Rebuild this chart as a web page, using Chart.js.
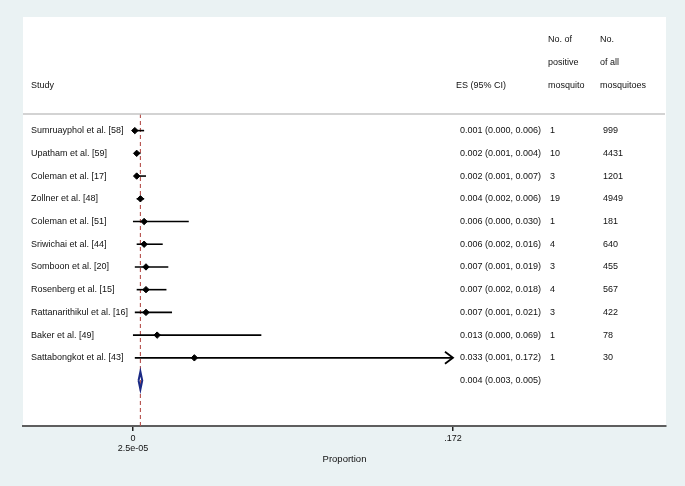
<!DOCTYPE html>
<html>
<head>
<meta charset="utf-8">
<script src="https://cdn.jsdelivr.net/npm/chart.js@4/dist/chart.umd.min.js"></script>
<style>
  html, body { margin: 0; padding: 0; background: #EAF2F3; }
  canvas { display: block; }
</style>
</head>
<body>
<canvas id="c" width="685" height="486"></canvas>
<script>
// ---- data ----
const studies = [
  'Sumruayphol et al. [58]', 'Upatham et al. [59]', 'Coleman et al. [17]',
  'Zollner et al. [48]', 'Coleman et al. [51]', 'Sriwichai et al. [44]',
  'Somboon et al. [20]', 'Rosenberg et al. [15]', 'Rattanarithikul et al. [16]',
  'Baker et al. [49]', 'Sattabongkot et al. [43]'
];
const esVals  = [0.001, 0.002, 0.002, 0.004, 0.006, 0.006, 0.007, 0.007, 0.007, 0.013, 0.033];
const ciLow   = [0.000, 0.001, 0.001, 0.002, 0.000, 0.002, 0.001, 0.002, 0.001, 0.000, 0.001];
const ciHigh  = [0.006, 0.004, 0.007, 0.006, 0.030, 0.016, 0.019, 0.018, 0.021, 0.069, 0.172];
const nPositive = [1, 10, 3, 19, 1, 4, 3, 4, 3, 1, 1];
const nTotal    = [999, 4431, 1201, 4949, 181, 640, 455, 567, 422, 78, 30];
const pooledES  = [0.004];
const pooledLow = [0.003];
const pooledHigh= [0.005];
const xTickValues = [0, 0.172];
const xTickLabels = [['0', '2.5e-05'], ['.172']];
const xTitle = 'Proportion';
const headerStudy = ['Study'];
const headerES = ['ES (95% CI)'];
const headerPos = ['No. of', 'positive', 'mosquito'];
const headerTot = ['No.', 'of all', 'mosquitoes'];

// ---- build ----
const FONT = '"Liberation Sans", Arial, Helvetica, sans-serif';
Chart.defaults.font.family = FONT;
Chart.defaults.font.size = 9;
Chart.defaults.color = '#111';

const fmt = v => v.toFixed(3);
const pooledRow = studies.length;
const diamondHalf = 0.39;
const xMax = xTickValues[xTickValues.length - 1];

const datasets = [];
// reference dashed line at pooled estimate
datasets.push({
  data: [{x: pooledES[0], y: -0.73}, {x: pooledES[0], y: 13}],
  showLine: true, borderColor: '#B5504C', borderWidth: 1.1, borderDash: [4, 3],
  pointRadius: 0, order: 10, clip: false
});
// CI lines
studies.forEach((s, i) => {
  datasets.push({
    data: [{x: ciLow[i], y: i}, {x: ciHigh[i], y: i}],
    showLine: true, borderColor: '#000', borderWidth: 1.6,
    pointRadius: 0, order: 5
  });
});
// point estimates
datasets.push({
  data: esVals.map((v, i) => ({x: v, y: i})),
  showLine: false, pointStyle: 'rectRot', pointRadius: 3.2,
  backgroundColor: '#000', borderColor: '#000', borderWidth: 1, order: 1
});
// pooled diamond
datasets.push({
  data: [
    {x: pooledLow[0], y: pooledRow},
    {x: pooledES[0], y: pooledRow - diamondHalf},
    {x: pooledHigh[0], y: pooledRow},
    {x: pooledES[0], y: pooledRow + diamondHalf},
    {x: pooledLow[0], y: pooledRow}
  ],
  showLine: true, borderColor: '#1B2A85', borderWidth: 2,
  pointRadius: 0, fill: false, order: 1
});

const bgPlugin = {
  id: 'bg',
  beforeDraw(chart) {
    const {ctx, chartArea: a} = chart;
    ctx.save();
    ctx.fillStyle = '#EAF2F3';
    ctx.fillRect(0, 0, chart.width, chart.height);
    ctx.fillStyle = '#FFFFFF';
    ctx.fillRect(a.left, a.top, a.right - a.left, a.bottom - a.top);
    ctx.restore();
  }
};

const textPlugin = {
  id: 'forestText',
  afterDatasetsDraw(chart) {
    const {ctx, chartArea: a, scales: {x, y}} = chart;
    ctx.save();
    ctx.font = '9px ' + FONT;
    ctx.fillStyle = '#111';
    ctx.textBaseline = 'middle';
    ctx.textAlign = 'left';
    const colStudy = a.left + 8, colES = a.left + 437, colPos = a.left + 527, colTot = a.left + 580;
    // headers
    ctx.fillText(headerStudy[0], colStudy, y.getPixelForValue(-2));
    ctx.fillText(headerES[0], colES - 4, y.getPixelForValue(-2));
    headerPos.forEach((t, k) => ctx.fillText(t, colPos - 2, y.getPixelForValue(-4 + k)));
    headerTot.forEach((t, k) => ctx.fillText(t, colTot - 3, y.getPixelForValue(-4 + k)));
    // separator
    ctx.strokeStyle = '#C4C4C4';
    ctx.lineWidth = 1.5;
    ctx.beginPath();
    const sy = y.getPixelForValue(-0.73);
    ctx.moveTo(a.left, sy); ctx.lineTo(a.right - 1, sy); ctx.stroke();
    // rows
    studies.forEach((s, i) => {
      const py = y.getPixelForValue(i);
      ctx.fillText(s, colStudy, py);
      ctx.fillText(fmt(esVals[i]) + ' (' + fmt(ciLow[i]) + ', ' + fmt(ciHigh[i]) + ')', colES, py);
      ctx.fillText(String(nPositive[i]), colPos, py);
      ctx.fillText(String(nTotal[i]), colTot, py);
    });
    ctx.fillText(fmt(pooledES[0]) + ' (' + fmt(pooledLow[0]) + ', ' + fmt(pooledHigh[0]) + ')', colES, y.getPixelForValue(pooledRow));
    // arrowheads for CIs reaching the axis limit
    ctx.strokeStyle = '#000';
    ctx.lineWidth = 1.8;
    ciHigh.forEach((h, i) => {
      if (h >= xMax) {
        const px = x.getPixelForValue(xMax), py = y.getPixelForValue(i);
        ctx.beginPath();
        ctx.moveTo(px - 8, py - 6);
        ctx.lineTo(px, py);
        ctx.lineTo(px - 8, py + 6);
        ctx.stroke();
      }
    });
    ctx.restore();
  }
};

new Chart(document.getElementById('c'), {
  type: 'scatter',
  data: { datasets },
  options: {
    responsive: false,
    animation: false,
    layout: { padding: { left: 23, top: 17, right: 19, bottom: 0 } },
    plugins: { legend: { display: false }, tooltip: { enabled: false } },
    scales: {
      x: {
        type: 'linear',
        min: -0.0591, max: 0.2865,
        afterBuildTicks: s => { s.ticks = xTickValues.map(v => ({value: v})); },
        afterFit: s => { s.height = 60; },
        ticks: {
          autoSkip: false, maxRotation: 0, padding: 3,
          font: { size: 9, lineHeight: 1.1 }, color: '#111',
          callback: (v) => { const k = xTickValues.indexOf(v); return k >= 0 ? xTickLabels[k] : ''; }
        },
        grid: { drawOnChartArea: false, drawTicks: true, tickLength: 5, color: '#222', lineWidth: 1.5 },
        border: { display: true, color: '#5E5E5E', width: 2 },
        title: { display: true, text: xTitle, font: { size: 9.5 }, color: '#111', padding: { top: 0, bottom: 21 } }
      },
      y: {
        type: 'linear', reverse: true, min: -5, max: 13, display: false
      }
    }
  },
  plugins: [bgPlugin, textPlugin]
});
</script>
</body>
</html>
